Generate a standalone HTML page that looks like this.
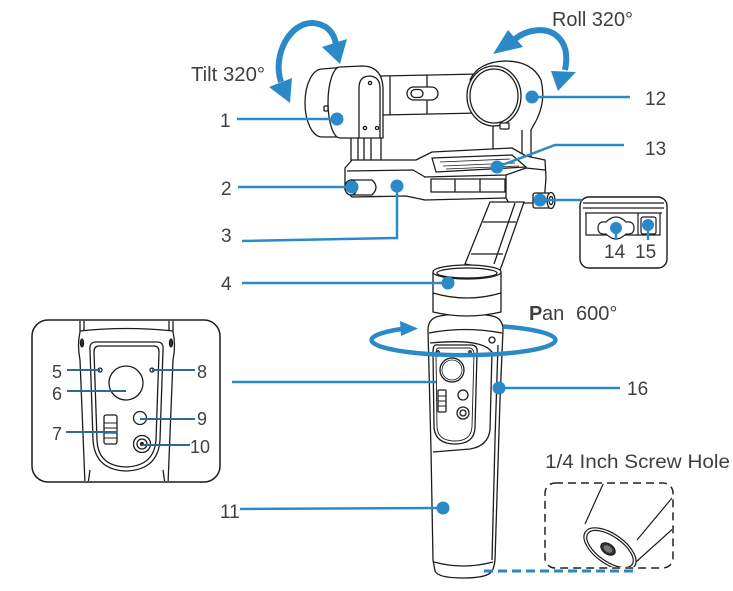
<!DOCTYPE html>
<html><head><meta charset="utf-8"><style>
html,body{margin:0;padding:0;background:#fff;}
svg{display:block;}
text{font-family:"Liberation Sans",sans-serif;fill:#3f3f3f;}
</style></head><body>
<svg width="733" height="591" viewBox="0 0 733 591" xmlns="http://www.w3.org/2000/svg">
<defs>
  <clipPath id="cl"><rect x="33" y="321" width="186" height="160" rx="15"/></clipPath>
  <clipPath id="cd"><rect x="546" y="484" width="126" height="83" rx="9"/></clipPath>
</defs>

<!-- ============ GIMBAL DRAWING ============ -->
<g fill="#fff" stroke="#1c1c1c" stroke-width="1.3" stroke-linejoin="round">
  <!-- top bar -->
  <path d="M380 76 L480 74 L480 113 L382 115 Z"/>
  <line x1="390" y1="76" x2="390" y2="115"/>
  <line x1="427" y1="75" x2="427" y2="114"/>
  <rect x="407" y="87" width="31" height="13" rx="6.5"/>
  <rect x="411" y="89.5" width="12" height="8" rx="4"/>

  <!-- roll motor housing and arm -->
  <path d="M470 80 Q478 62 505 61 Q532 61 541 80 Q546 100 537 119 L531 130 L531 162 L493 162 L493 125 Z"/>
  <line x1="522" y1="130" x2="522" y2="162"/>
  <ellipse cx="494" cy="96" rx="27" ry="30"/>
  <ellipse cx="494" cy="96" rx="24" ry="27"/>
  <rect x="500" y="123" width="9" height="6" rx="1"/>

  <!-- tilt motor legs -->
  <rect x="351" y="130" width="7" height="34"/>
  <rect x="364" y="130" width="17" height="34"/>
  <line x1="371" y1="136" x2="371" y2="164"/>
  <!-- tilt motor -->
  <path d="M322 69 L346 67 L346 137 L322 137 A17 34 0 0 1 322 69 Z"/>
  <path d="M340 67 L362 66 Q382 66 383 88 L383 138 L340 138 A12 35.5 0 0 1 340 67 Z"/>
  <path d="M359 138 L359 88 Q359 76 370 76 Q380 77 380 88 L380 138" fill="none"/>
  <circle cx="370" cy="83" r="1.6"/>
  <circle cx="365" cy="128" r="1.6"/>
  <circle cx="377" cy="128" r="1.6"/>
  <rect x="324" y="106" width="4" height="5" rx="1"/>

  <!-- bottom plate -->
  <path d="M345 168 L352 160 L416 160 L432 152 L512 148 L526 156 L545 160 L546 178 L544 203 L509 203 L506 198 L425 200 L406 196 L352 197 L345 190 Z"/>
  <path d="M347 171 L413 170 L425 177" fill="none"/>
  <path d="M432 158 L512 155 L526 167 L436 172 Z"/>
  <path d="M440 162 L510 159 M443 166 L515 163 M446 169 L519 166" fill="none" stroke-width="0.8"/>
  <path d="M424 177 L506 175 L526 168" fill="none"/>
  <rect x="431" y="179" width="74" height="13"/>
  <line x1="455" y1="179" x2="455" y2="192"/>
  <line x1="480" y1="179" x2="480" y2="192"/>
  <path d="M506 175 L506 198 M526 168 L545 170" fill="none"/>
  <!-- knob 2 -->
  <path d="M351 180 L372 180 Q380 187 372 195 L351 195 Z"/>
  <ellipse cx="351" cy="187.5" rx="6" ry="7.5"/>
  <!-- right knob -->
  <rect x="533" y="193" width="18" height="15" rx="2"/>
  <ellipse cx="551" cy="200.5" rx="4" ry="8"/>
  <ellipse cx="551" cy="200.5" rx="2" ry="4"/>

  <!-- arm -->
  <path d="M490 202 L524 202 L503 262 L500 270 L465 264 Z"/>
  <path d="M515 203 L494 264 M483 222 L516 222 M471 254 L503 254" fill="none"/>

  <!-- handle -->
  <path d="M428 330 Q428 318 440 316 Q467 311 492 316 Q503 318 503 330 L500 400 L495 560 Q494 568 492 571 Q488 578 463 578 Q438 578 435 571 L433 560 L431 450 Z"/>
  <path d="M429 333 Q465 326 502 333" fill="none"/>
  <path d="M430 343 Q482 338 492 352 L490 430 Q488 446 470 449 L433 452" fill="none"/>
  <path d="M498 345 L495 440 L492 560" fill="none"/>
  <path d="M434 562 Q463 570 493 562" fill="none"/>
  <circle cx="492" cy="340" r="3"/>
  <!-- panel -->
  <path d="M436 345 L472 345 Q478 346 477 353 L475 428 Q474 444 455 444 Q436 444 434 428 L433 352 Q433 345 436 345 Z"/>
  <path d="M438 348 L470 348 Q474 349 474 354 L472 427 Q471 441 455 441 Q438 441 437 427 L436 354 Q436 348 438 348 Z" fill="none" stroke-width="0.9"/>
  <circle cx="452" cy="370" r="12"/>
  <circle cx="452" cy="370" r="10" fill="none" stroke-width="0.8"/>
  <circle cx="463" cy="395" r="5"/>
  <circle cx="463" cy="413" r="6"/>
  <circle cx="463" cy="413" r="3"/>
  <rect x="438" y="390" width="8" height="22" rx="1"/>
  <path d="M438 396 L446 396 M438 401 L446 401 M438 406 L446 406" fill="none" stroke-width="0.9"/>
  <circle cx="438" cy="352" r="1.2"/>
  <circle cx="470" cy="352" r="1.2"/>

  <!-- cup -->
  <path d="M433 272 L433 312 Q467 320 501 312 L501 272 Z"/>
  <path d="M433 293 Q467 303 501 293" fill="none"/>
  <ellipse cx="467" cy="272" rx="34" ry="7"/>
  <ellipse cx="467" cy="273" rx="30" ry="5" fill="none"/>
</g>

<!-- ============ LEFT INSET ============ -->
<rect x="32" y="320" width="188" height="162" rx="16" fill="#fff" stroke="#1c1c1c" stroke-width="1.5"/>
<g clip-path="url(#cl)" fill="#fff" stroke="#1c1c1c" stroke-width="1.3">
  <path d="M80 318 L80 332 Q77 345 80 360 L85 484" fill="none"/>
  <path d="M84 318 L84 331" fill="none"/>
  <path d="M173 318 L173 332 Q176 345 173 360 L168 484" fill="none"/>
  <path d="M169 318 L169 331" fill="none"/>
  <path d="M80 331 Q126 326 173 331" fill="none"/>
  <ellipse cx="82" cy="343" rx="1.5" ry="4" fill="#333"/>
  <ellipse cx="171" cy="343" rx="1.5" ry="4" fill="#333"/>
  <path d="M96 342 L157 342 Q164 342 163 350 L160 440 Q158 470 126 471 Q95 470 93 440 L90 350 Q89 342 96 342 Z"/>
  <path d="M99 346 L154 346 Q159 346 159 352 L156 440 Q154 466 126 467 Q98 466 97 440 L94 352 Q94 346 99 346 Z" fill="none"/>
  <circle cx="126" cy="383" r="17"/>
  <circle cx="100" cy="370" r="2"/>
  <circle cx="152" cy="370" r="2"/>
  <circle cx="140" cy="418" r="6.5"/>
  <circle cx="142" cy="444" r="8.5"/>
  <circle cx="142" cy="444" r="5"/>
  <circle cx="142" cy="444" r="1.5" fill="#333"/>
  <rect x="104" y="415" width="13" height="29" rx="2"/>
  <path d="M104 423 L117 423 M104 428 L117 428 M104 433 L117 433 M104 438 L117 438" fill="none" stroke-width="1"/>
  <path d="M90 470 L88 484 M163 470 L165 484" fill="none"/>
</g>
<g stroke="#2d6a98" stroke-width="2">
  <line x1="67" y1="370" x2="100" y2="370"/>
  <line x1="67" y1="391" x2="126" y2="391"/>
  <line x1="66" y1="432" x2="117" y2="432"/>
  <line x1="152" y1="370" x2="195" y2="370"/>
  <line x1="140" y1="419" x2="195" y2="419"/>
  <line x1="142" y1="445" x2="190" y2="445"/>
</g>
<g font-size="18">
  <text x="52" y="378">5</text>
  <text x="52" y="400">6</text>
  <text x="52" y="440">7</text>
  <text x="197" y="378">8</text>
  <text x="197" y="425">9</text>
  <text x="190" y="453">10</text>
</g>

<!-- ============ RIGHT INSET (14/15) ============ -->
<rect x="580" y="197" width="87" height="71" rx="9" fill="#fff" stroke="#1c1c1c" stroke-width="1.4"/>
<g fill="#fff" stroke="#1c1c1c" stroke-width="1.2">
  <path d="M583 203 L664 203 M583 208 L664 208 M585 213 L662 213" fill="none"/>
  <path d="M586 213 L586 235 L660 235 L660 213" fill="none"/>
  <line x1="638" y1="213" x2="638" y2="235"/>
  <path d="M598 228 Q598 221 606 222 Q611 217 616 217 Q621 217 626 222 Q634 221 634 228 Q634 235 626 234 Q621 239 616 239 Q611 239 606 234 Q598 235 598 228 Z"/>
  <rect x="641" y="217" width="15" height="17" rx="2"/>
</g>

<!-- ============ DASHED INSET ============ -->
<g clip-path="url(#cd)" fill="#fff" stroke="#1c1c1c" stroke-width="1.2">
  <path d="M585 524 L604 482 M636 562 L676 526 M637 540 L672 498" fill="none"/>
  <ellipse cx="610" cy="549" rx="30" ry="15" transform="rotate(35 610 549)"/>
  <ellipse cx="610" cy="549" rx="27" ry="12.5" transform="rotate(35 610 549)" fill="none"/>
  <ellipse cx="608" cy="549" rx="8" ry="5" transform="rotate(35 608 549)" fill="#333"/>
  <ellipse cx="608" cy="549" rx="5" ry="3" transform="rotate(35 608 549)" fill="#777" stroke="none"/>
</g>
<rect x="545" y="483" width="128" height="85" rx="10" fill="none" stroke="#222" stroke-width="1.5" stroke-dasharray="8 5"/>
<line x1="484" y1="571" x2="634" y2="571" stroke="#2a86c4" stroke-width="3" stroke-dasharray="9 5"/>

<!-- ============ BLUE ARROWS ============ -->
<g fill="none" stroke="#2a8ac8" stroke-width="6">
  <path d="M281 82 C272 55 290 22 313 23 C326 24 334 32 336 44"/>
  <path d="M514 40 C525 30 545 26 557 36 C566 44 568 55 565 70"/>
</g>
<g fill="#2a8ac8">
  <polygon points="269,87 292,78 290,103"/>
  <polygon points="322,47 347,39 340,64"/>
  <polygon points="493,54 508,30 523,47"/>
  <polygon points="551,71 576,72 558,91"/>
</g>
<!-- pan ellipse -->
<g fill="none" stroke="#2a8ac8" stroke-width="4.5">
  <path d="M371.5 340 A91.5 15 0 0 1 405 328.5"/>
  <path d="M503 326.5 A91.5 15 0 0 1 555.5 340"/>
  <path d="M371.5 340 A91.5 15 0 0 0 555.5 340"/>
</g>
<polygon points="400,321 418,328.5 401,336" fill="#2a8ac8"/>

<!-- ============ CALLOUT LINES & DOTS ============ -->
<g stroke="#2a8ac8" stroke-width="2.5" fill="none">
  <line x1="237" y1="119" x2="337" y2="119"/>
  <line x1="238" y1="187" x2="352" y2="187"/>
  <polyline points="242,241 397,238 397,186"/>
  <line x1="242" y1="283" x2="448" y2="283"/>
  <line x1="532" y1="97" x2="630" y2="97"/>
  <polyline points="497,167 555,145 624,145"/>
  <line x1="540" y1="200" x2="582" y2="200"/>
  <line x1="616" y1="228" x2="616" y2="240"/>
  <line x1="648" y1="225" x2="648" y2="240"/>
  <line x1="499" y1="388" x2="620" y2="388"/>
  <line x1="240" y1="509" x2="443" y2="508"/>
  <line x1="232" y1="382" x2="436" y2="382"/>
</g>
<g fill="#2a8ac8">
  <circle cx="337" cy="119" r="6.5"/>
  <circle cx="352" cy="187" r="6.5"/>
  <circle cx="397" cy="186" r="6.5"/>
  <circle cx="448" cy="283" r="6.5"/>
  <circle cx="532" cy="97" r="6.5"/>
  <circle cx="497" cy="167" r="6.5"/>
  <circle cx="540" cy="200" r="6.5"/>
  <circle cx="616" cy="228" r="6"/>
  <circle cx="648" cy="225" r="6"/>
  <circle cx="499" cy="388" r="6.5"/>
  <circle cx="443" cy="508" r="6.5"/>
</g>

<!-- ============ LABELS ============ -->
<g font-size="20">
  <text x="191" y="81" textLength="74" lengthAdjust="spacingAndGlyphs">Tilt 320°</text>
  <text x="552" y="26" textLength="81" lengthAdjust="spacingAndGlyphs">Roll 320°</text>
  <text x="529" y="320" font-weight="bold">P</text>
  <text x="542" y="320">an</text>
  <text x="576" y="320">600°</text>
</g>
<text x="545" y="468" font-size="19" textLength="185" lengthAdjust="spacingAndGlyphs">1/4 Inch Screw Hole</text>
<g font-size="19">
  <text x="220" y="127">1</text>
  <text x="221" y="195">2</text>
  <text x="221" y="242">3</text>
  <text x="221" y="290">4</text>
  <text x="220" y="518">11</text>
  <text x="645" y="105">12</text>
  <text x="645" y="155">13</text>
  <text x="604" y="258">14</text>
  <text x="635" y="258">15</text>
  <text x="627" y="395">16</text>
</g>
</svg>
</body></html>
